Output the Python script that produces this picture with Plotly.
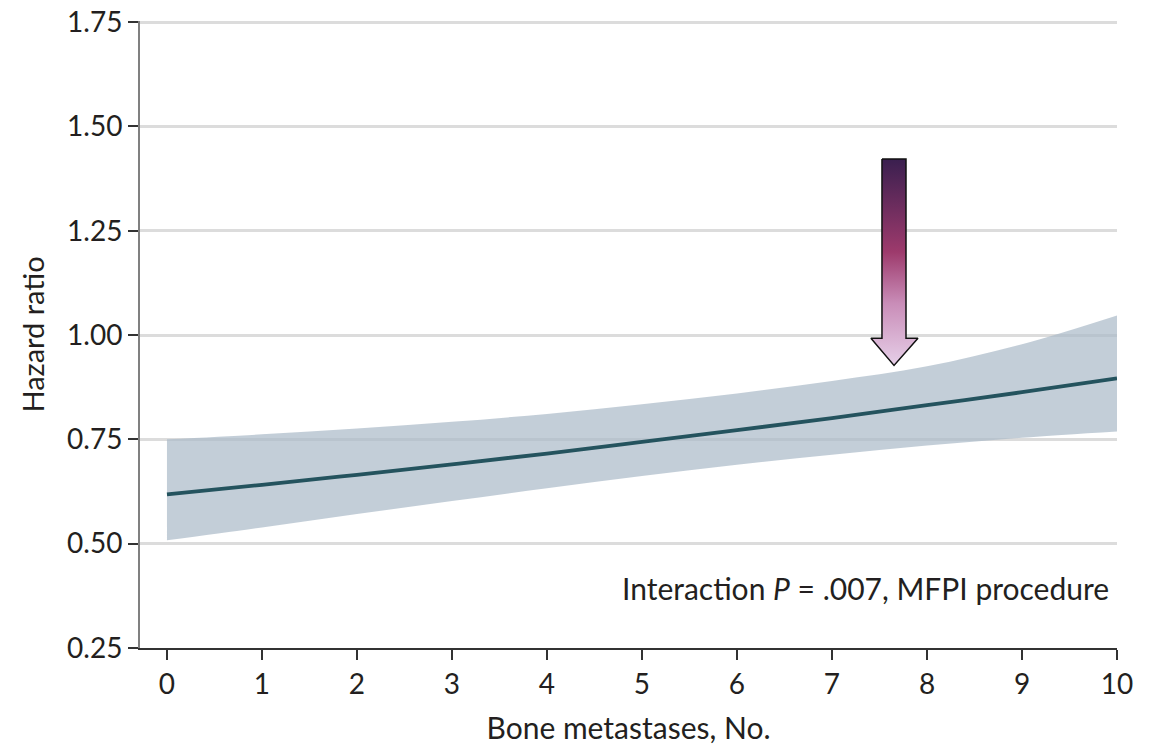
import plotly.graph_objects as go

# Data
bone_mets = [0, 1, 2, 3, 4, 5, 6, 7, 8, 9, 10]
hazard_ratio = [0.618, 0.641, 0.665, 0.690, 0.716, 0.744, 0.772, 0.801, 0.832, 0.863, 0.896]
ci_upper = [0.750, 0.762, 0.776, 0.792, 0.811, 0.834, 0.860, 0.890, 0.925, 0.978, 1.047]
ci_lower = [0.508, 0.539, 0.571, 0.602, 0.633, 0.662, 0.689, 0.713, 0.735, 0.754, 0.769]

y_ticks = [0.25, 0.50, 0.75, 1.00, 1.25, 1.50, 1.75]
y_tick_labels = ["0.25", "0.50", "0.75", "1.00", "1.25", "1.50", "1.75"]
x_ticks = list(range(0, 11))

# Arrow outline (data coordinates)
arrow_x = [7.526, 7.779, 7.779, 7.905, 7.653, 7.41, 7.526, 7.526]
arrow_y = [1.422, 1.422, 0.992, 0.992, 0.927, 0.992, 0.992, 1.422]

FONT = "Lato, Liberation Sans, Arial, sans-serif"
TXT = "#231f20"

fig = go.Figure()

# CI band
fig.add_trace(go.Scatter(
    x=bone_mets, y=ci_upper, mode="lines", line=dict(width=0, shape="spline"),
    hoverinfo="skip", showlegend=False))
fig.add_trace(go.Scatter(
    x=bone_mets, y=ci_lower, mode="lines", line=dict(width=0, shape="spline"),
    fill="tonexty", fillcolor="rgba(172,187,201,0.72)", hoverinfo="skip", showlegend=False))

# Estimate line
fig.add_trace(go.Scatter(
    x=bone_mets, y=hazard_ratio, mode="lines",
    line=dict(color="#24535e", width=3.8, shape="spline"), showlegend=False))

# Gradient arrow
fig.add_trace(go.Scatter(
    x=arrow_x, y=arrow_y, mode="lines", fill="toself",
    line=dict(color="#111111", width=1.5),
    fillgradient=dict(type="vertical",
                      colorscale=[[0, "#e6cfe8"], [0.3, "#c98db8"], [0.55, "#9d3a6c"],
                                  [1, "#3a1f4f"]]),
    hoverinfo="skip", showlegend=False))

fig.add_annotation(
    text="Interaction <i>P</i> = .007, MFPI procedure",
    xref="paper", yref="y", x=0.994, y=0.394, xanchor="right", yanchor="middle",
    showarrow=False, font=dict(family=FONT, size=30, color=TXT))

fig.update_layout(
    width=1152, height=737,
    margin=dict(l=132, r=43, t=13, b=97),
    plot_bgcolor="white", paper_bgcolor="white",
    font=dict(family=FONT, size=28, color=TXT),
    xaxis=dict(
        range=[-0.284, 10], tickvals=x_ticks, showgrid=False, zeroline=False,
        showline=True, linecolor="#333333", linewidth=2, automargin=False,
        ticks="outside", ticklen=10, tickwidth=2, tickcolor="#333333",
        tickfont=dict(size=28), ticklabeloverflow="allow",
        title=dict(text="Bone metastases, No.", font=dict(size=30), standoff=19)),
    yaxis=dict(
        range=[0.25, 1.7525], tickvals=y_ticks, ticktext=y_tick_labels,
        showgrid=True, gridcolor="#dcdcdc", gridwidth=3, zeroline=False,
        showline=True, linecolor="#808080", linewidth=2, automargin=False,
        ticks="outside", ticklen=10, tickwidth=2, tickcolor="#333333",
        tickfont=dict(size=28), ticklabeloverflow="allow",
        title=dict(text="Hazard ratio", font=dict(size=29), standoff=14)),
)

fig.write_html("out.html")
